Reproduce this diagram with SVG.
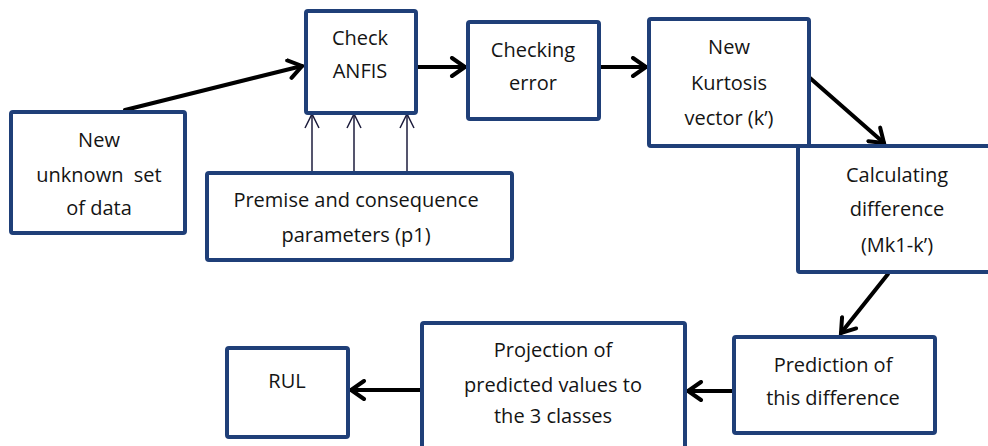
<svg xmlns="http://www.w3.org/2000/svg" width="988" height="446" viewBox="0 0 988 446">
<defs>
<style>
.box{fill:#ffffff;stroke:#1f3f78;stroke-width:4;}
.t{font-family:"Open Sans","Liberation Sans",Arial,sans-serif;font-size:20px;fill:#141414;text-anchor:middle;}
.thick{stroke:#000;stroke-width:4;fill:none;stroke-linecap:round;}
.thin{stroke:#1c1c3c;stroke-width:1.5;fill:none;}
</style>
<marker id="ah" markerUnits="userSpaceOnUse" viewBox="-16 -11 20 22" refX="0" refY="0" markerWidth="20" markerHeight="22" orient="auto">
<path d="M -13,-9 L 0,0 L -13,9" fill="none" stroke="#000" stroke-width="4" stroke-linecap="round" stroke-linejoin="miter"/>
</marker>
<marker id="ahThin" markerUnits="userSpaceOnUse" viewBox="-16 -10 20 20" refX="0" refY="0" markerWidth="20" markerHeight="20" orient="auto">
<path d="M -14,-7 L 0,0 L -14,7" fill="none" stroke="#1c1c3c" stroke-width="1.5"/>
</marker>
</defs>
<rect width="988" height="446" fill="#ffffff"/>

<g id="connectors">
<line class="thick" x1="125" y1="110" x2="302" y2="66" marker-end="url(#ah)"/>
<line class="thick" x1="418" y1="67" x2="465" y2="67" marker-end="url(#ah)"/>
<line class="thick" x1="601" y1="67" x2="646" y2="67" marker-end="url(#ah)"/>
<line class="thick" x1="810" y1="78" x2="884" y2="143" marker-end="url(#ah)"/>
<line class="thick" x1="888" y1="274" x2="841" y2="333" marker-end="url(#ah)"/>
<line class="thick" x1="732" y1="391" x2="688" y2="391" marker-end="url(#ah)"/>
<line class="thick" x1="420" y1="390" x2="351" y2="390" marker-end="url(#ah)"/>
<line class="thin" x1="312" y1="172" x2="312" y2="114" marker-end="url(#ahThin)"/>
<line class="thin" x1="354" y1="172" x2="354" y2="114" marker-end="url(#ahThin)"/>
<line class="thin" x1="407" y1="172" x2="407" y2="114" marker-end="url(#ahThin)"/>
</g>

<g id="n-new-data">
<rect class="box" x="11" y="112" width="174" height="121" rx="2"/>
<text class="t" x="99" y="147">New</text>
<text class="t" x="99" y="182" xml:space="preserve">unknown  set</text>
<text class="t" x="99" y="215">of data</text>
</g>

<g id="n-anfis">
<rect class="box" x="306" y="11" width="110" height="102" rx="2"/>
<text class="t" x="360" y="45">Check</text>
<text class="t" x="360" y="78">ANFIS</text>
</g>

<g id="n-params">
<rect class="box" x="207" y="173" width="305" height="87" rx="2"/>
<text class="t" x="356" y="207">Premise and consequence</text>
<text class="t" x="356" y="242">parameters (p1)</text>
</g>

<g id="n-checking-error">
<rect class="box" x="468" y="22" width="131" height="97" rx="2"/>
<text class="t" x="533" y="57">Checking</text>
<text class="t" x="533" y="90">error</text>
</g>

<g id="n-kurtosis">
<rect class="box" x="649" y="19" width="160" height="127" rx="2"/>
<text class="t" x="729" y="54">New</text>
<text class="t" x="729" y="90">Kurtosis</text>
<text class="t" x="729" y="125">vector  (k’)</text>
</g>

<g id="n-calc-diff">
<rect class="box" x="798" y="146" width="200" height="126" rx="2"/>
<text class="t" x="897" y="182">Calculating</text>
<text class="t" x="897" y="216">difference</text>
<text class="t" x="897" y="252">(Mk1-k’)</text>
</g>

<g id="n-prediction">
<rect class="box" x="734" y="337" width="201" height="96" rx="2"/>
<text class="t" x="833" y="372">Prediction of</text>
<text class="t" x="833" y="405">this difference</text>
</g>

<g id="n-projection">
<rect class="box" x="422" y="323" width="263" height="130" rx="2"/>
<text class="t" x="553" y="357">Projection of</text>
<text class="t" x="553" y="392">predicted values to</text>
<text class="t" x="553" y="423">the 3 classes</text>
</g>

<g id="n-rul">
<rect class="box" x="227" y="348" width="121" height="89" rx="2"/>
<text class="t" x="287" y="388">RUL</text>
</g>
</svg>
